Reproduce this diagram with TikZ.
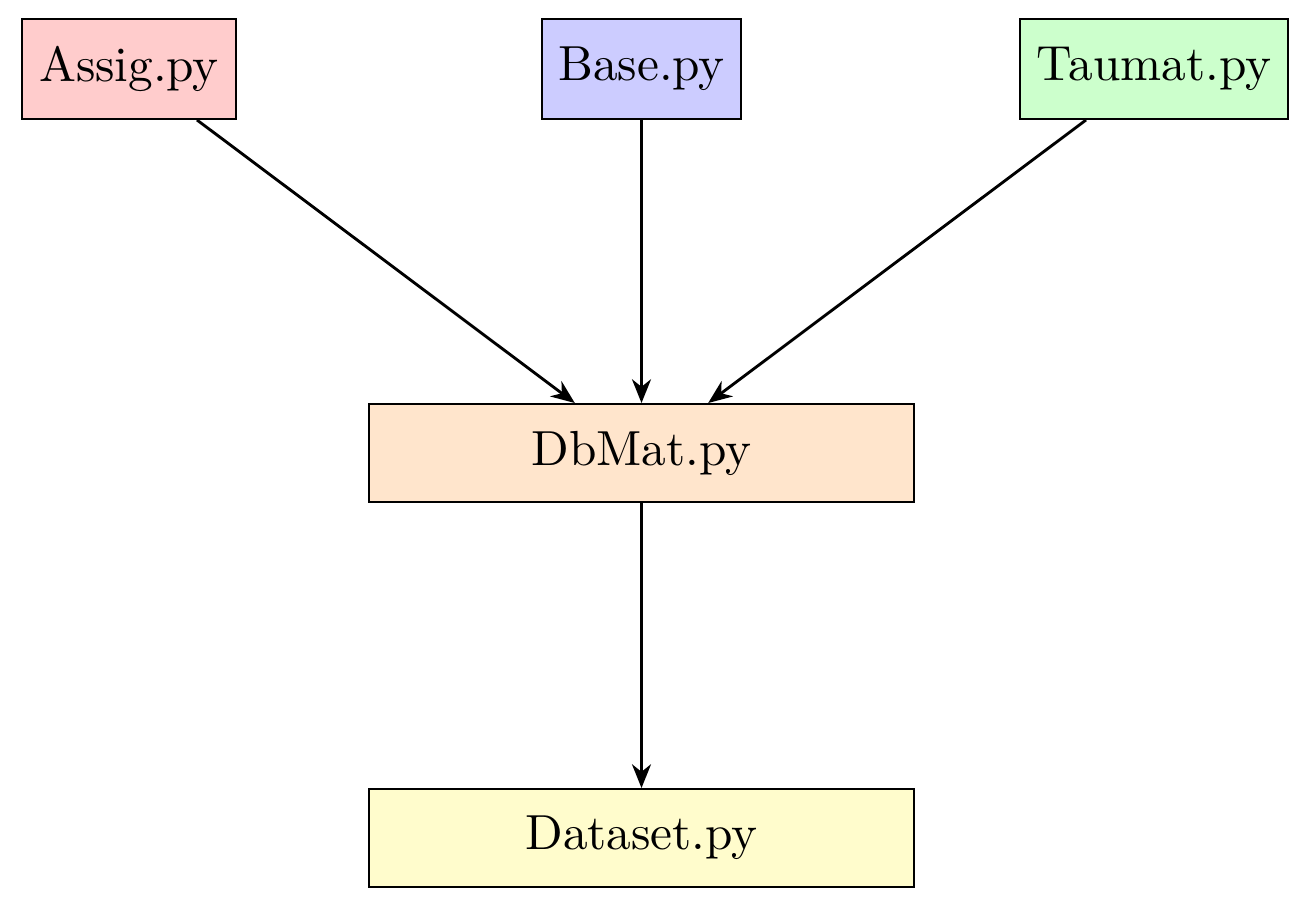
\documentclass[tikz,border=0pt]{standalone}
\usetikzlibrary{arrows.meta}
\begin{document}
\begin{tikzpicture}[x=0.21pt,y=-0.21pt,
  box/.style={draw, line width=0.4pt, inner sep=0pt, minimum height=21pt, font=\fontsize{10.35}{12}\selectfont},
  flow/.style={-{Stealth[length=5pt,width=4pt,inset=1.6pt]}, line width=0.6pt}]
\useasboundingbox (0,0) rectangle (1310,906);
\node[box, fill=red!20, minimum width=44.94pt] (assig) at (129,69) {Assig.py};
\node[box, fill=blue!20, minimum width=41.79pt] (base) at (641.5,69) {Base.py};
\node[box, fill=green!20, minimum width=56.28pt] (taumat) at (1154,69) {Taumat.py};
\node[box, fill=orange!20, minimum width=114.45pt, minimum height=20.6pt] (dbmat) at (641.5,453) {DbMat.py};
\node[box, fill=yellow!20, minimum width=114.45pt, minimum height=20.6pt] (dataset) at (641.5,838) {Dataset.py};
\draw[flow] (assig) -- (dbmat);
\draw[flow] (base) -- (dbmat);
\draw[flow] (taumat) -- (dbmat);
\draw[flow] (dbmat) -- (dataset);
\end{tikzpicture}
\end{document}
